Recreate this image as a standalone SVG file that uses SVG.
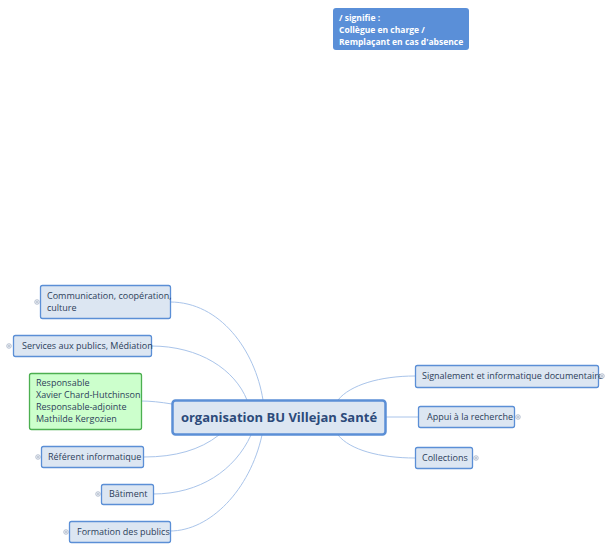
<svg xmlns="http://www.w3.org/2000/svg" width="612" height="551" viewBox="0 0 612 551">
<style>
.n{fill:#dce6f2;stroke:#5b8fd6;stroke-width:1.3}
.t{font-family:"Open Sans","Liberation Sans",sans-serif;font-size:9px;fill:#2c3e5a}
.c{fill:none;stroke:#a9c4ea;stroke-width:1}
.p{fill:#fff;stroke:#8a9bb5;stroke-width:0.6}
.pl{stroke:#8a9bb5;stroke-width:0.6}
</style>
<defs>
<g id="plus"><circle r="2.3" class="p"/><path d="M-1.4 0H1.4M0 -1.4V1.4" class="pl"/></g>
</defs>
<rect width="612" height="551" fill="#fff"/>
<g id="connectors">
<path class="c" d="M263 400C255 350 220 302 170 302"/>
<path class="c" d="M247 400C235 370 200 346 151 346"/>
<path class="c" d="M172 404C160 402 150 401 141 401"/>
<path class="c" d="M219 435C200 450 175 457 144 457"/>
<path class="c" d="M251 435C235 470 200 494 153 494"/>
<path class="c" d="M262 435C250 490 210 531 170 531"/>
<path class="c" d="M338 400C350 385 380 376 415 376"/>
<path class="c" d="M386 417H418"/>
<path class="c" d="M338 435C350 450 380 458 415 458"/>
</g>
<g id="note"><rect x="333" y="8" width="136" height="42" rx="3" fill="#5a8fd8"/>
<text font-family="Open Sans,Liberation Sans,sans-serif" font-size="8.5" font-weight="bold" fill="#fff"><tspan x="339" y="21">/ signifie :</tspan><tspan x="339" y="33">Collègue en charge /</tspan><tspan x="339" y="45">Remplaçant en cas d'absence</tspan></text></g>
<g id="center"><rect x="172.5" y="400.5" width="213" height="34" rx="3" fill="#dce6f2" stroke="#5b8fd6" stroke-width="2.5"/>
<text x="279" y="422" text-anchor="middle" font-family="Open Sans,Liberation Sans,sans-serif" font-size="13" font-weight="bold" fill="#2c4a7a">organisation BU Villejan Santé</text></g>
<g id="comm"><rect class="n" x="40.5" y="285.5" width="130" height="33" rx="2"/><text class="t"><tspan x="47" y="299">Communication, coopération,</tspan><tspan x="47" y="311">culture</tspan></text><use href="#plus" x="37" y="302"/></g>
<g id="services"><rect class="n" x="13.5" y="335.5" width="138" height="21" rx="2"/><text class="t" x="22" y="349">Services aux publics, Médiation</text><use href="#plus" x="9" y="346"/></g>
<g id="resp"><rect x="29.5" y="373.5" width="112" height="56" rx="2" fill="#ccffcc" stroke="#4caf50" stroke-width="1.3"/><text class="t"><tspan x="36" y="386">Responsable</tspan><tspan x="36" y="398">Xavier Chard-Hutchinson</tspan><tspan x="36" y="410">Responsable-adjointe</tspan><tspan x="36" y="422">Mathilde Kergozien</tspan></text></g>
<g id="referent"><rect class="n" x="41.5" y="446.5" width="102" height="21" rx="2"/><text class="t" x="48" y="460">Référent informatique</text><use href="#plus" x="38" y="457"/></g>
<g id="batiment"><rect class="n" x="101.5" y="484.5" width="52" height="20" rx="2"/><text class="t" x="109" y="497">Bâtiment</text><use href="#plus" x="98" y="494"/></g>
<g id="formation"><rect class="n" x="69.5" y="521.5" width="101" height="21" rx="2"/><text class="t" x="77" y="535">Formation des publics</text><use href="#plus" x="66" y="532"/></g>
<g id="signalement"><rect class="n" x="415.5" y="365.5" width="183" height="22" rx="2"/><text class="t" x="422" y="379">Signalement et informatique documentaire</text><use href="#plus" x="602" y="376"/></g>
<g id="appui"><rect class="n" x="418.5" y="406.5" width="96" height="21" rx="2"/><text class="t" x="427" y="420">Appui à la recherche</text><use href="#plus" x="518" y="417"/></g>
<g id="collections"><rect class="n" x="415.5" y="447.5" width="57" height="21" rx="2"/><text class="t" x="422" y="461">Collections</text><use href="#plus" x="476" y="458"/></g>
</svg>
